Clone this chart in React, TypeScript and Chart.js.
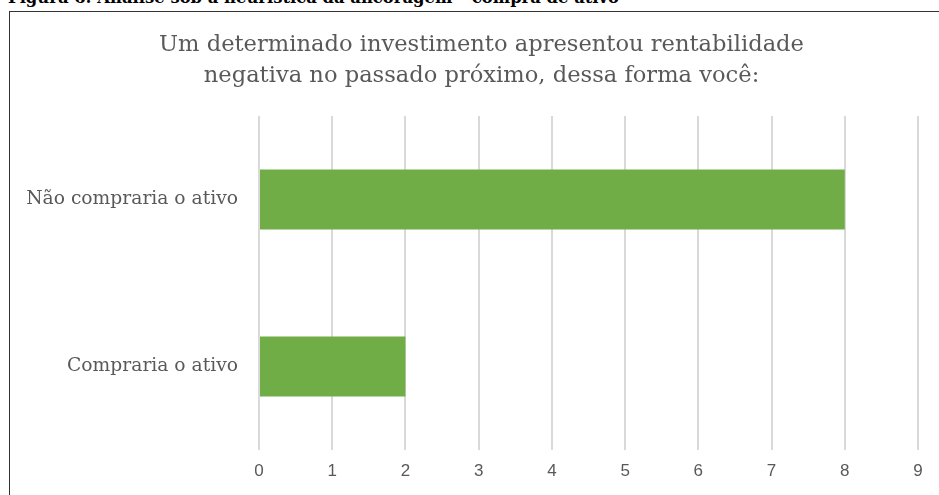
import React, { useEffect, useRef } from "react";
import { Chart, registerables } from "chart.js";

Chart.register(...registerables);

const caption = "Figura 6: Análise sob a heurística da ancoragem – compra de ativo";
const titleLines = [
  "Um determinado investimento apresentou rentabilidade",
  "negativa no passado próximo, dessa forma você:",
];
const categories = ["Não compraria o ativo", "Compraria o ativo"];
const values = [8, 2];
const xMin = 0;
const xMax = 9;

const SERIF = "'DejaVu Serif', 'Liberation Serif', serif";

// let the category labels use the space left of the y-axis box (avoid clipping)
const widenLabelArea = {
  id: "widenLabelArea",
  afterLayout(chart: any) {
    if (chart.scales.y) chart.scales.y.left = 0;
  },
};

export default function App() {
  const ref = useRef<HTMLCanvasElement | null>(null);

  useEffect(() => {
    if (!ref.current) return;
    const LEFT_PAD = 45;
    const chart = new Chart(ref.current, {
      type: "bar",
      data: {
        labels: categories,
        datasets: [
          {
            data: values,
            backgroundColor: "#70ad47",
            borderWidth: 0,
            barPercentage: 0.36,
            categoryPercentage: 1,
          },
        ],
      },
      plugins: [widenLabelArea],
      options: {
        indexAxis: "y",
        animation: false,
        responsive: false,
        maintainAspectRatio: false,
        layout: { padding: { left: LEFT_PAD, right: 21, top: 0, bottom: 0 } },
        plugins: {
          legend: { display: false },
          tooltip: { enabled: false },
          title: {
            display: true,
            text: titleLines,
            color: "#595959",
            font: { family: SERIF, size: 22.6, weight: "normal", lineHeight: 1.37 },
            padding: { top: 30, bottom: 24 },
          },
        },
        scales: {
          x: {
            min: xMin,
            max: xMax,
            ticks: {
              stepSize: 1,
              color: "#595959",
              padding: 11,
              font: { family: "'Liberation Sans', 'DejaVu Sans', sans-serif", size: 17 },
            },
            grid: { color: "#d9d9d9", lineWidth: 2, drawTicks: false },
            border: { display: false },
            afterFit: (scale: any) => {
              scale.height = 45;
            },
          },
          y: {
            ticks: {
              color: "#595959",
              padding: 21,
              font: { family: SERIF, size: 18.7 },
            },
            grid: { display: false, drawTicks: false },
            border: { display: false },
            afterFit: (scale: any) => {
              scale.width = 259 - LEFT_PAD;
            },
          },
        },
      },
    });
    return () => chart.destroy();
  }, []);

  return (
    <div
      style={{
        position: "fixed",
        left: 0,
        top: 0,
        width: 939,
        height: 495,
        overflow: "hidden",
        background: "#ffffff",
      }}
    >
      <div
        style={{
          position: "absolute",
          left: 8,
          top: -11,
          fontFamily: SERIF,
          fontWeight: "bold",
          fontSize: 16.4,
          lineHeight: "17px",
          whiteSpace: "nowrap",
          color: "#000",
        }}
      >
        {caption}
      </div>
      <div
        style={{
          position: "absolute",
          left: 9,
          top: 11,
          width: 960,
          height: 520,
          border: "1px solid #333",
          boxSizing: "border-box",
        }}
      />
      <canvas
        ref={ref}
        width={939}
        height={495}
        style={{ position: "absolute", left: 0, top: 0, width: 939, height: 495 }}
      />
    </div>
  );
}
